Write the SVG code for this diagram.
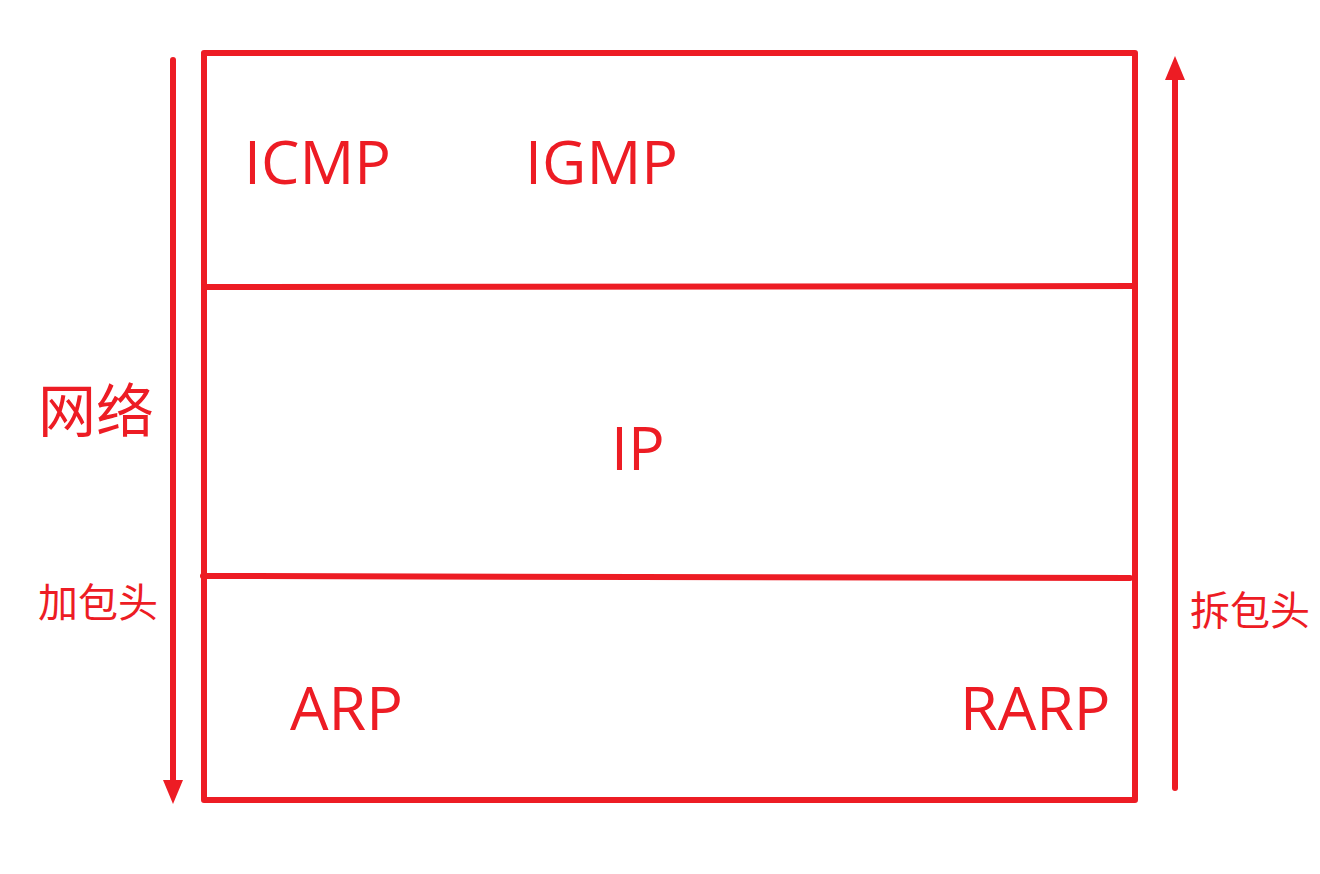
<svg xmlns="http://www.w3.org/2000/svg" width="1320" height="874" viewBox="0 0 1320 874">
  <style>
    .ln { stroke: #ED1C24; stroke-width: 6; stroke-linecap: round; stroke-linejoin: round; fill: none; }
    .head { fill: #ED1C24; }
    .lbl { fill: #ED1C24; font-family: "Open Sans", "Noto Sans", "Liberation Sans", sans-serif; font-size: 61px; }
    .cjk { fill: #ED1C24; font-family: "Noto Sans CJK SC", sans-serif; }
  </style>
  <rect width="1320" height="874" fill="#ffffff"/>

  <!-- protocol stack frame -->
  <g id="stack">
    <rect class="ln" x="204" y="53" width="931" height="747"/>
  </g>

  <g id="connectors">
    <line class="ln" x1="204" y1="287" x2="1135" y2="286"/>
    <line class="ln" x1="203" y1="576" x2="1130" y2="578"/>
    <!-- encapsulation direction (down) -->
    <line class="ln" x1="173" y1="60" x2="173" y2="784"/>
    <path class="head" d="M163,780 L173,804 L183,780 Z"/>
    <!-- decapsulation direction (up) -->
    <line class="ln" x1="1175" y1="788" x2="1175" y2="76"/>
    <path class="head" d="M1165,80 L1175,56 L1185,80 Z"/>
  </g>

  <g id="icmp"><text class="lbl" x="244" y="184">ICMP</text></g>
  <g id="igmp"><text class="lbl" x="525" y="184">IGMP</text></g>
  <g id="ip"><text class="lbl" x="611" y="470">IP</text></g>
  <g id="arp"><text class="lbl" x="290" y="730">ARP</text></g>
  <g id="rarp"><text class="lbl" x="960" y="730">RARP</text></g>

  <g id="network"><text class="cjk" x="38" y="432" font-size="58">网络</text></g>
  <g id="encap"><text class="cjk" x="38" y="617" font-size="40">加包头</text></g>
  <g id="decap"><text class="cjk" x="1190" y="625" font-size="40">拆包头</text></g>
</svg>
